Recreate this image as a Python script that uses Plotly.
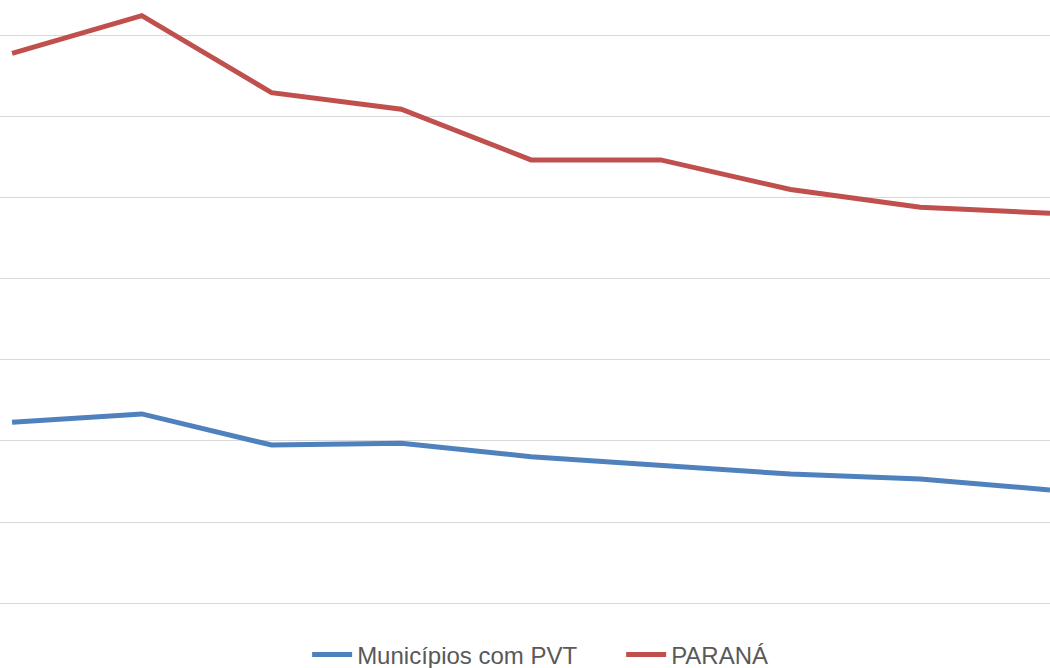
import plotly.graph_objects as go

categories = ["2009", "2010", "2011", "2012", "2013", "2014", "2015", "2016", "2017"]
municipios_pvt = [11.15, 11.67, 9.75, 9.86, 9.03, 8.52, 7.96, 7.65, 6.98]
parana = [33.93, 36.25, 31.50, 30.48, 27.35, 27.35, 25.52, 24.43, 24.06]

x_idx = list(range(len(categories)))

fig = go.Figure()
fig.add_trace(go.Scatter(
    x=x_idx, y=municipios_pvt, mode="lines", name="Municípios com PVT",
    line=dict(color="#4F81BD", width=5),
))
fig.add_trace(go.Scatter(
    x=x_idx, y=parana, mode="lines", name="PARANÁ",
    line=dict(color="#C0504D", width=5),
))

fig.update_layout(
    width=1050, height=668,
    margin=dict(l=0, r=0, t=0, b=65, autoexpand=False),
    paper_bgcolor="white", plot_bgcolor="white",
    font=dict(family="Liberation Sans, Arial, sans-serif", size=24, color="#595959"),
    showlegend=True,
    legend=dict(orientation="h", x=0.2925, xanchor="left", y=-0.086, yanchor="middle",
                font=dict(size=24, color="#595959"), itemwidth=40,
                entrywidth=259, entrywidthmode="pixels"),
)
fig.update_xaxes(range=[-0.093, 8.0], showgrid=False, zeroline=False,
                 showticklabels=False, ticks="", showline=False,
                 tickvals=x_idx, ticktext=categories)
fig.update_yaxes(range=[0, 37.22], dtick=5, tick0=0, showgrid=True,
                 gridcolor="#D9D9D9", gridwidth=1.3, zeroline=True,
                 zerolinecolor="#D9D9D9", zerolinewidth=1.3,
                 showticklabels=False, ticks="", showline=False)

fig.write_html("out.html", config={"displayModeBar": False},
               post_script="document.body.style.margin='0';document.body.style.overflow='hidden';")
